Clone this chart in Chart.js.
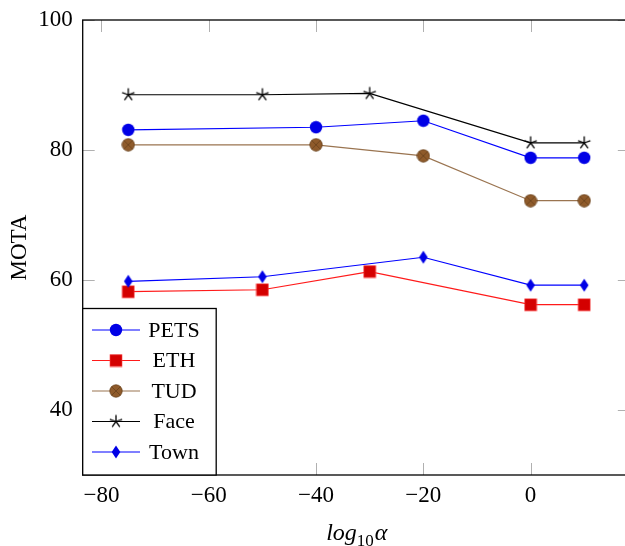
<!DOCTYPE html>
<html>
<head>
<meta charset="utf-8">
<script src="https://cdn.jsdelivr.net/npm/chart.js@4.4.0/dist/chart.umd.min.js"></script>
<style>
  html, body { margin: 0; padding: 0; background: #fff; }
  canvas { display: block; }
</style>
</head>
<body>
<canvas id="myChart" width="625" height="546"></canvas>
<script>
// valeurs
const alphaPets = [-75, -40, -20, 0, 10];
const motaPets = [83.1, 83.5, 84.5, 78.8, 78.8];
const alphaEth = [-75, -50, -30, 0, 10];
const motaEth = [58.2, 58.5, 61.3, 56.2, 56.2];
const alphaTud = [-75, -40, -20, 0, 10];
const motaTud = [80.8, 80.8, 79.1, 72.2, 72.2];
const alphaFace = [-75, -50, -30, 0, 10];
const motaFace = [88.5, 88.5, 88.7, 81.1, 81.1];
const alphaTown = [-75, -50, -20, 0, 10];
const motaTown = [59.8, 60.5, 63.5, 59.2, 59.2];

const xTicks = [-80, -60, -40, -20, 0];
const yTicks = [40, 60, 80, 100];
const seriesNames = ['PETS', 'ETH', 'TUD', 'Face', 'Town'];

const SERIF = "'Liberation Serif', 'DejaVu Serif', serif";

// l'axe droit de la figure d'origine est hors cadre (x = 18.5), on coupe à 17.6
const X_MIN = -83.5, X_MAX = 17.6, X_RIGHT_AXIS = 18.5;

function toPoints(xs, ys) {
    return xs.map((x, i) => ({ x: x, y: ys[i] }));
}

// petits canvas pour les marqueurs
function makeMarker(w, h, draw) {
    const c = document.createElement('canvas');
    c.width = w;
    c.height = h;
    draw(c.getContext('2d'), w / 2, h / 2);
    return c;
}

const mkCircle = makeMarker(14, 14, function (g, cx, cy) {
    g.beginPath();
    g.arc(cx, cy, 6.2, 0, Math.PI * 2);
    g.fillStyle = '#0000e6';
    g.fill();
});

const mkSquare = makeMarker(14, 14, function (g, cx, cy) {
    g.fillStyle = '#d40000';
    g.fillRect(cx - 6, cy - 6, 12, 12);
    g.strokeStyle = '#ff4040';
    g.lineWidth = 0.6;
    g.strokeRect(cx - 6, cy - 6, 12, 12);
});

const mkOtimes = makeMarker(14, 14, function (g, cx, cy) {
    g.beginPath();
    g.arc(cx, cy, 6.2, 0, Math.PI * 2);
    g.fillStyle = '#8f5b2b';
    g.fill();
    g.strokeStyle = '#6a421d';
    g.lineWidth = 0.8;
    g.stroke();
    const d = 6.2 * Math.SQRT1_2;
    g.beginPath();
    g.moveTo(cx - d, cy - d); g.lineTo(cx + d, cy + d);
    g.moveTo(cx + d, cy - d); g.lineTo(cx - d, cy + d);
    g.stroke();
});

const mkStar = makeMarker(16, 16, function (g, cx, cy) {
    g.strokeStyle = '#000';
    g.lineWidth = 1.3;
    g.beginPath();
    for (let k = 0; k < 5; k++) {
        const a = -Math.PI / 2 + k * 2 * Math.PI / 5;
        g.moveTo(cx, cy);
        g.lineTo(cx + 6.5 * Math.cos(a), cy + 6.5 * Math.sin(a));
    }
    g.stroke();
});

const mkDiamond = makeMarker(12, 16, function (g, cx, cy) {
    g.beginPath();
    g.moveTo(cx, cy - 6.5);
    g.lineTo(cx + 4.3, cy);
    g.lineTo(cx, cy + 6.5);
    g.lineTo(cx - 4.3, cy);
    g.closePath();
    g.fillStyle = '#0000e6';
    g.fill();
});

const lineColors = ['#0000ff', '#ff1a1a', '#9a7450', '#000000', '#0000ff'];
const markers = [mkCircle, mkSquare, mkOtimes, mkStar, mkDiamond];

// cadre, graduations, titres et légende dessinés à la main (style pgfplots)
const frameAndLegend = {
    id: 'frameAndLegend',
    beforeDatasetsDraw(chart) {
        const g = chart.ctx;
        const a = chart.chartArea;
        const xs = chart.scales.x;
        const ys = chart.scales.y;
        const right = xs.getPixelForValue(X_RIGHT_AXIS);
        g.save();
        g.strokeStyle = '#b0b0b0';
        g.lineWidth = 1;
        const tl = 12;
        g.beginPath();
        xTicks.forEach(function (v) {
            const px = Math.round(xs.getPixelForValue(v)) + 0.5;
            g.moveTo(px, a.bottom); g.lineTo(px, a.bottom - tl);
            g.moveTo(px, a.top); g.lineTo(px, a.top + tl);
        });
        yTicks.forEach(function (v) {
            const py = Math.round(ys.getPixelForValue(v)) + 0.5;
            g.moveTo(a.left, py); g.lineTo(a.left + tl, py);
            g.moveTo(right, py); g.lineTo(right - tl, py);
        });
        g.stroke();
        g.strokeStyle = '#000';
        g.lineWidth = 1.3;
        g.strokeRect(a.left, a.top, right - a.left, a.bottom - a.top);
        g.restore();
    },
    afterDatasetsDraw(chart) {
        const g = chart.ctx;
        const a = chart.chartArea;
        const xs = chart.scales.x;
        g.save();

        // légende
        const bx = a.left, by = 308.5, bw = 133.5, bh = a.bottom - 308.5;
        g.fillStyle = '#fff';
        g.fillRect(bx, by, bw, bh);
        g.strokeStyle = '#000';
        g.lineWidth = 1.3;
        g.strokeRect(bx, by, bw, bh);
        g.font = '22px ' + SERIF;
        g.textAlign = 'center';
        g.textBaseline = 'middle';
        seriesNames.forEach(function (name, i) {
            const yy = 330 + i * 30.5;
            g.strokeStyle = lineColors[i];
            g.lineWidth = 1.2;
            g.beginPath();
            g.moveTo(92, yy); g.lineTo(140, yy);
            g.stroke();
            const m = markers[i];
            g.drawImage(m, 116 - m.width / 2, yy - m.height / 2);
            g.fillStyle = '#000';
            g.fillText(name, 174, yy + 1);
        });

        // titre axe y
        g.save();
        g.translate(20, (a.top + a.bottom) / 2);
        g.rotate(-Math.PI / 2);
        g.font = '23px ' + SERIF;
        g.textAlign = 'center';
        g.textBaseline = 'middle';
        g.fillText('MOTA', 0, 0);
        g.restore();

        // titre axe x : log10 α
        const cx = (a.left + xs.getPixelForValue(X_RIGHT_AXIS)) / 2;
        const base = 540;
        g.textAlign = 'left';
        g.textBaseline = 'alphabetic';
        g.font = 'italic 24px ' + SERIF;
        const w1 = g.measureText('log').width;
        g.font = '17px ' + SERIF;
        const w2 = g.measureText('10').width;
        g.font = 'italic 24px ' + SERIF;
        const w3 = g.measureText('α').width;
        let x0 = cx - (w1 + w2 + w3) / 2;
        g.fillText('log', x0, base);
        g.font = '17px ' + SERIF;
        g.fillText('10', x0 + w1, base + 6);
        g.font = 'italic 24px ' + SERIF;
        g.fillText('α', x0 + w1 + w2 + 1, base);
        g.restore();
    }
};

function makeDataset(i, xs, ys, order) {
    return {
        label: seriesNames[i],
        data: toPoints(xs, ys),
        borderColor: lineColors[i],
        backgroundColor: lineColors[i],
        borderWidth: 1.2,
        pointStyle: markers[i],
        pointRadius: 6,
        pointHoverRadius: 6,
        tension: 0,
        clip: false,
        order: order
    };
}

const ctx = document.getElementById('myChart').getContext('2d');

const myChart = new Chart(ctx, {
    type: 'line',
    data: {
        datasets: [
            makeDataset(0, alphaPets, motaPets, 5),
            makeDataset(1, alphaEth, motaEth, 4),
            makeDataset(2, alphaTud, motaTud, 3),
            makeDataset(3, alphaFace, motaFace, 2),
            makeDataset(4, alphaTown, motaTown, 1)
        ]
    },
    options: {
        responsive: false,
        devicePixelRatio: 1,
        animation: false,
        layout: { autoPadding: false, padding: { top: 20, right: 0, left: 0, bottom: 0 } },
        plugins: {
            legend: { display: false },
            tooltip: { enabled: false }
        },
        scales: {
            x: {
                type: 'linear',
                min: X_MIN,
                max: X_MAX,
                grid: { display: false, drawTicks: false },
                border: { display: false },
                afterBuildTicks: function (s) { s.ticks = xTicks.map(v => ({ value: v })); },
                afterFit: function (s) {
                    s.height = 71;
                    s.paddingLeft = 0;
                    s.paddingRight = 0;
                },
                ticks: {
                    padding: 7,
                    color: '#000',
                    font: { family: SERIF, size: 23 },
                    autoSkip: false,
                    maxRotation: 0,
                    callback: v => String(v).replace('-', '\u2212')
                }
            },
            y: {
                type: 'linear',
                min: 30,
                max: 100,
                grid: { display: false, drawTicks: false },
                border: { display: false },
                afterBuildTicks: function (s) { s.ticks = yTicks.map(v => ({ value: v })); },
                afterFit: function (s) {
                    s.width = 82.7;
                    s.paddingTop = 0;
                    s.paddingBottom = 0;
                },
                ticks: {
                    padding: 10,
                    color: '#000',
                    font: { family: SERIF, size: 23 },
                    autoSkip: false
                }
            }
        }
    },
    plugins: [frameAndLegend]
});
</script>
</body>
</html>
